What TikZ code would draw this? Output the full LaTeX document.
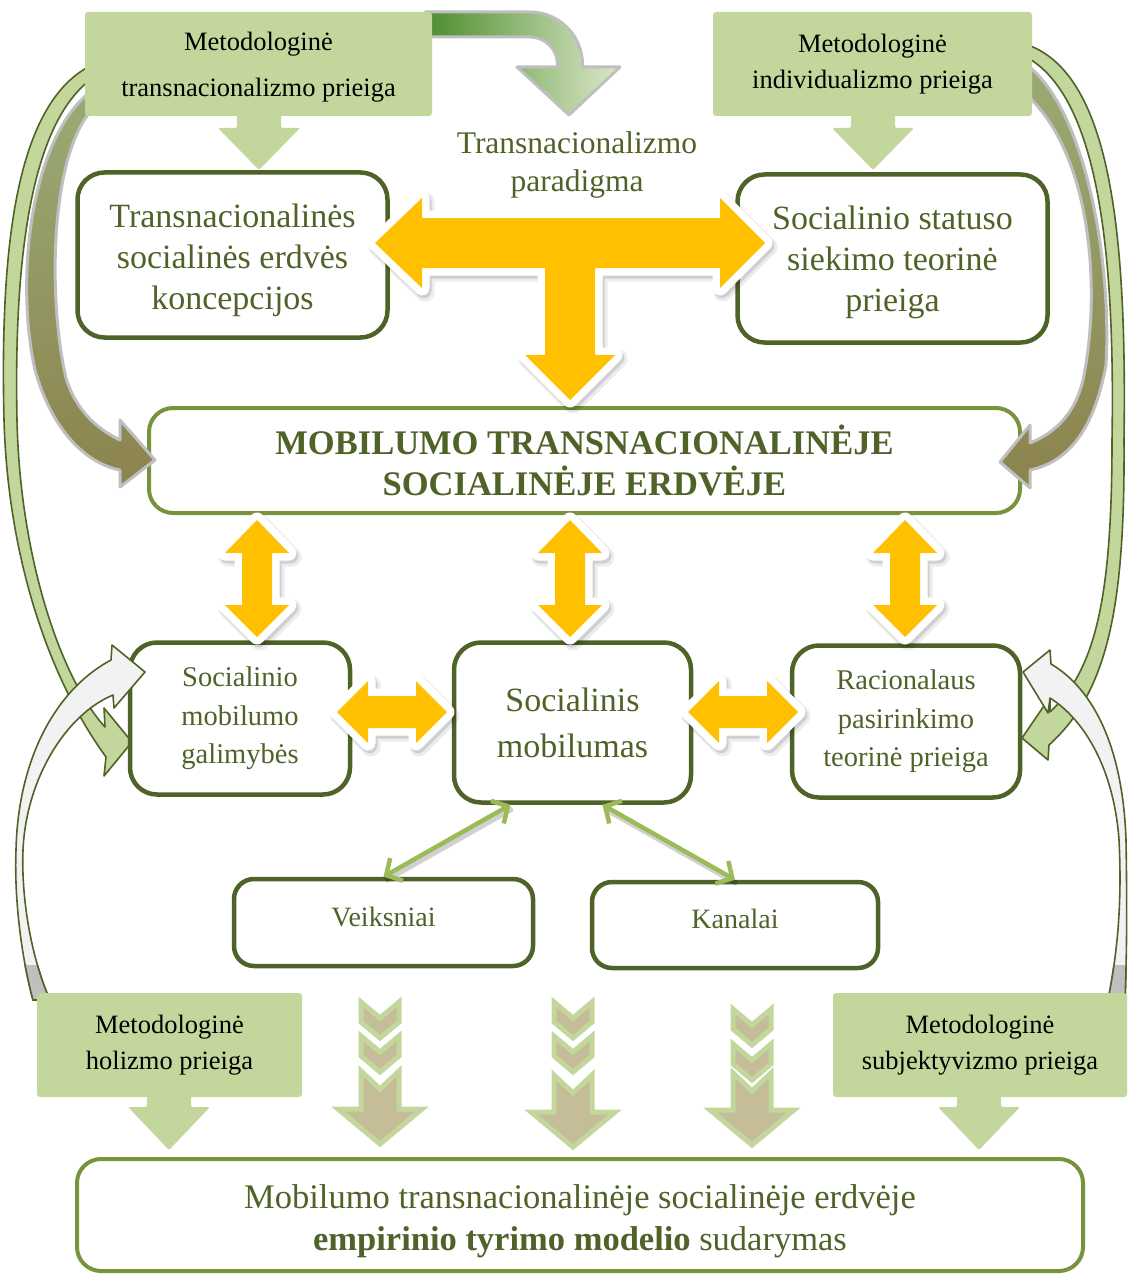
\documentclass[tikz,border=0pt]{standalone}
\usepackage{fontspec}
\setmainfont{Liberation Serif}
\usetikzlibrary{arrows.meta,calc}

\definecolor{dkg}{HTML}{4F6228}
\definecolor{mdg}{HTML}{77933C}
\definecolor{lg}{HTML}{C3D69B}
\definecolor{yel}{HTML}{FFC000}
\definecolor{tanc}{HTML}{C4BD97}
\definecolor{gar}{HTML}{9BBB59}
\definecolor{khA}{HTML}{9AAA74}
\definecolor{khB}{HTML}{8C834E}
\definecolor{gry}{HTML}{BFBFBF}
\definecolor{wht}{HTML}{F2F2F2}
\definecolor{tgA}{HTML}{4B8C2D}
\definecolor{tgB}{HTML}{DCE8C8}

% block arrows drawn from their outlines
\newcommand{\Tarrow}[1]{\path[#1] (375,243) -- (422,198) -- (422,218) -- (720,218) -- (720,198) -- (765,243) -- (720,288) -- (720,268) -- (595,268) -- (595,355) -- (615,355) -- (570,400) -- (525,355) -- (545,355) -- (545,268) -- (422,268) -- (422,288) -- cycle;}
\newcommand{\Varrow}[2]{\path[#1] (#2,520) -- (#2+32,553) -- (#2+15,553) -- (#2+15,605) -- (#2+32,605) -- (#2,637) -- (#2-32,605) -- (#2-15,605) -- (#2-15,553) -- (#2-32,553) -- cycle;}
\newcommand{\Harrow}[3]{\path[#1] (#2,712) -- (#2+31,681) -- (#2+31,696) -- (#3-31,696) -- (#3-31,681) -- (#3,712) -- (#3-31,743) -- (#3-31,728) -- (#2+31,728) -- (#2+31,743) -- cycle;}
\newcommand{\chev}[2]{\path[chevst] (#1-19,#2+4) -- (#1,#2+20) -- (#1+19,#2+4) -- (#1+19,#2+24) -- (#1,#2+40) -- (#1-19,#2+24) -- cycle;}
\newcommand{\bigdown}[4]{\path[chevst] (#1-19,#2+3) -- (#1,#2+21) -- (#1+19,#2+3) -- (#1+19,#3+2) -- (#1+42,#3+2) -- (#1,#4-3) -- (#1-42,#3+2) -- (#1-19,#3+2) -- cycle;}
\newcommand{\gdown}[4]{\fill[lg, rounded corners=2pt] (#1-22,#2) -- (#1+22,#2) -- (#1+22,#3) -- (#1+41,#3) -- (#1,#4) -- (#1-41,#3) -- (#1-22,#3) -- cycle;}
% curved side arrows
\newcommand{\whiteL}[1]{\path[#1] (33,1000) .. controls (22,960) and (14,900) .. (16,850) .. controls (18,760) and (55,690) .. (111,660) -- (112,645) -- (145,672) -- (114,708) -- (113,695) .. controls (65,715) and (26,780) .. (23,850) .. controls (21,900) and (32,960) .. (50,1000) -- cycle;}
\newcommand{\whiteR}[1]{\path[#1] (1125,1000) .. controls (1127,950) and (1127,900) .. (1126,840) .. controls (1123,750) and (1095,690) .. (1051,664) -- (1050,650) -- (1023,672) -- (1048,713) -- (1050,698) .. controls (1085,720) and (1114,770) .. (1119,840) .. controls (1122,900) and (1118,950) .. (1108,1000) -- cycle;}

\begin{document}
\begin{tikzpicture}[x=1pt,y=-1pt,
  dbox/.style={draw=dkg, line width=4.5pt, rounded corners=27pt, fill=white, align=center, text=dkg, inner sep=0pt},
  mbox/.style={draw=mdg, line width=4pt, rounded corners=24pt, fill=white, align=center, text=dkg, inner sep=0pt},
  gbox/.style={fill=lg, rounded corners=3pt, align=center, text=black, inner sep=0pt},
  btext/.style={align=center, text=dkg, inner sep=0pt},
  sidegreen/.style={fill=lg, draw=dkg, line width=1.6pt, line join=round},
  sidekhaki/.style={top color=khA, bottom color=khB, draw=gry, line width=3pt, line join=round},
  sidewhite/.style={fill=wht, draw=dkg, line width=1.6pt, line join=round},
  toparrow/.style={left color=tgA, right color=tgB, draw=gry, line width=3pt, line join=round},
  yshA/.style={fill=black, draw=black, line width=19pt, line join=round, opacity=0.07, shift={(3,4)}},
  yshB/.style={fill=black, draw=black, line width=15pt, line join=round, opacity=0.12, shift={(2,3)}},
  ywhite/.style={fill=white, draw=white, line width=15pt, line join=round},
  yfill/.style={fill=yel},
  chevst/.style={fill=tanc, draw=lg, line width=5pt, line join=miter},
  gline/.style={draw=gar, line width=4.5pt, {Straight Barb[length=12pt,width=26pt]}-{Straight Barb[length=12pt,width=26pt]}},
  glineshadow/.style={draw=black, opacity=0.18, line width=5pt, transform canvas={xshift=2pt,yshift=-4pt}}
]
\useasboundingbox (0,0) rectangle (1127,1276);

% outer green arrows from the top approaches down to the lower boxes
\path[sidegreen] (90,66) .. controls (15,105) and (0,250) .. (4,420) .. controls (8,560) and (50,680) .. (106,757) -- (104,776) -- (132,742) -- (104,708) -- (105,727) .. controls (62,680) and (20,560) .. (17,420) .. controls (14,270) and (28,128) .. (90,80) -- cycle;
\path[sidegreen] (1028,45) .. controls (1110,75) and (1127,230) .. (1124,440) .. controls (1125,600) and (1110,690) .. (1049,745) -- (1048,760) -- (1022,738) -- (1050,697) -- (1050,712) .. controls (1095,670) and (1112,600) .. (1112,440) .. controls (1115,260) and (1100,100) .. (1028,58) -- cycle;

% middle row boxes
\node[dbox, minimum width=220, minimum height=152, font=\fontsize{28.5}{38.5}\selectfont] (smg) at (240,718.5) {Socialinio\\mobilumo\\galimybės};
\node[dbox, minimum width=237, minimum height=160, font=\fontsize{34}{46}\selectfont] (sm) at (572.5,722.5) {Socialinis\\mobilumas};
\node[dbox, minimum width=228, minimum height=152, font=\fontsize{28.5}{38.5}\selectfont] (rp) at (906,721.5) {Racionalaus\\pasirinkimo\\teorinė prieiga};
\node[dbox, minimum width=299, minimum height=87, rounded corners=20pt] (veik) at (383.5,922.5) {};
\node[btext, font=\fontsize{28}{34}\selectfont] (veik-t) at ([yshift=6pt]veik.center) {Veiksniai};
\node[dbox, minimum width=286, minimum height=86, rounded corners=20pt] (kan) at (735,925) {};
\node[btext, font=\fontsize{28}{34}\selectfont] (kan-t) at ([yshift=6pt]kan.center) {Kanalai};

% central box and the two upper boxes
\node[mbox, minimum width=871, minimum height=105, font=\fontsize{34.5}{41}\selectfont\bfseries] (main) at (584.5,460.5) {MOBILUMO TRANSNACIONALINĖJE\\SOCIALINĖJE ERDVĖJE};
\node[dbox, minimum width=310, minimum height=165] (ts) at (232.5,255) {};
\node[btext, font=\fontsize{34}{41}\selectfont] (ts-t) at ([yshift=-5pt]ts.center) {Transnacionalinės\\socialinės erdvės\\koncepcijos};
\node[dbox, minimum width=310, minimum height=168] (ss) at (892.5,258.5) {};
\node[btext, font=\fontsize{34}{41}\selectfont] (ss-t) at ([yshift=-4pt]ss.center) {Socialinio statuso\\siekimo teorinė\\prieiga};

% khaki arrows into the central box
\path[sidekhaki] (90,92) .. controls (30,140) and (15,280) .. (35,370) .. controls (52,430) and (85,463) .. (120,470) -- (120,487) -- (155,460) -- (120,420) -- (120,440) .. controls (95,428) and (75,408) .. (66,378) .. controls (48,300) and (50,160) .. (90,112) -- cycle;
\path[sidekhaki] (1028,66) .. controls (1085,110) and (1112,260) .. (1106,365) .. controls (1094,430) and (1068,462) .. (1030,470) -- (1030,488) -- (1000,462) -- (1030,425) -- (1030,443) .. controls (1058,432) and (1076,410) .. (1083,380) .. controls (1100,300) and (1095,160) .. (1028,96) -- cycle;

% bent arrow towards the paradigm
\path[toparrow] (425,12) -- (530,12) .. controls (559,12) and (582.5,35.5) .. (582.5,64.5) -- (582.5,67) -- (620,67) -- (569,115) -- (517,67) -- (557.5,67) -- (557.5,64.5) .. controls (557.5,49.3) and (545.2,37) .. (530,37) -- (425,37) -- cycle;

% methodological approaches at the top
\node[gbox, minimum width=347, minimum height=104] (tlg) at (258.5,64) {};
\node[inner sep=0pt, align=center, font=\fontsize{26.5}{46}\selectfont] (tlg-t) at ([yshift=-3pt]tlg.center) {Metodologinė\\transnacionalizmo prieiga};
\node[gbox, minimum width=319, minimum height=104, font=\fontsize{26.5}{35.5}\selectfont] (trg) at (872.5,64) {Metodologinė\\individualizmo prieiga};
\gdown{259}{110}{128}{170}
\gdown{873}{110}{128}{170}

\node[text=dkg, align=center, font=\fontsize{31.5}{38}\selectfont] (par) at (577,165) {Transnacionalizmo\\paradigma};

% white arrows rising from the lower approaches
\whiteL{sidewhite}
\begin{scope}
  \clip (0,965) rectangle (200,1000);
  \whiteL{fill=gry, draw=dkg, line width=1.6pt}
\end{scope}
\whiteR{sidewhite}
\begin{scope}
  \clip (950,965) rectangle (1127,1000);
  \whiteR{fill=gry, draw=dkg, line width=1.6pt}
\end{scope}

% methodological approaches at the bottom
\node[gbox, minimum width=265, minimum height=104, font=\fontsize{26.5}{36}\selectfont] (hol) at (169.5,1045) {Metodologinė\\holizmo prieiga};
\node[gbox, minimum width=294, minimum height=104, font=\fontsize{26.5}{36}\selectfont] (subj) at (980,1045) {Metodologinė\\subjektyvizmo prieiga};
\gdown{169}{1092}{1107}{1150}
\gdown{979}{1092}{1107}{1150}

% yellow block arrows
\Tarrow{yshA}\Tarrow{yshB}\Tarrow{ywhite}\Tarrow{yfill}
\Varrow{yshA}{257}\Varrow{yshB}{257}\Varrow{ywhite}{257}\Varrow{yfill}{257}
\Varrow{yshA}{570}\Varrow{yshB}{570}\Varrow{ywhite}{570}\Varrow{yfill}{570}
\Varrow{yshA}{905}\Varrow{yshB}{905}\Varrow{ywhite}{905}\Varrow{yfill}{905}
\Harrow{yshA}{337}{447}\Harrow{yshB}{337}{447}\Harrow{ywhite}{337}{447}\Harrow{yfill}{337}{447}
\Harrow{yshA}{688}{798}\Harrow{yshB}{688}{798}\Harrow{ywhite}{688}{798}\Harrow{yfill}{688}{798}

% links to factors and channels
\draw[glineshadow] ([xshift=-62pt]sm.south) -- (veik.north);
\draw[glineshadow] ([xshift=30pt]sm.south) -- (kan.north);
\draw[gline] ([xshift=-62pt]sm.south) -- (veik.north);
\draw[gline] ([xshift=30pt]sm.south) -- (kan.north);

% chevron columns
\chev{380}{998}\chev{380}{1032}\bigdown{380}{1068}{1107}{1147}
\chev{573}{998}\chev{573}{1032}\bigdown{573}{1072}{1110}{1150}
\chev{752}{1005}\chev{752}{1040}\bigdown{752}{1070}{1108}{1148}

% result box
\node[mbox, minimum width=1006, minimum height=112] (res) at (580,1215) {};
\node[btext, font=\fontsize{34.5}{42}\selectfont] (res-t) at ([yshift=-6pt]res.center) {Mobilumo transnacionalinėje socialinėje erdvėje\\\textbf{empirinio tyrimo modelio} sudarymas};
\end{tikzpicture}
\end{document}
